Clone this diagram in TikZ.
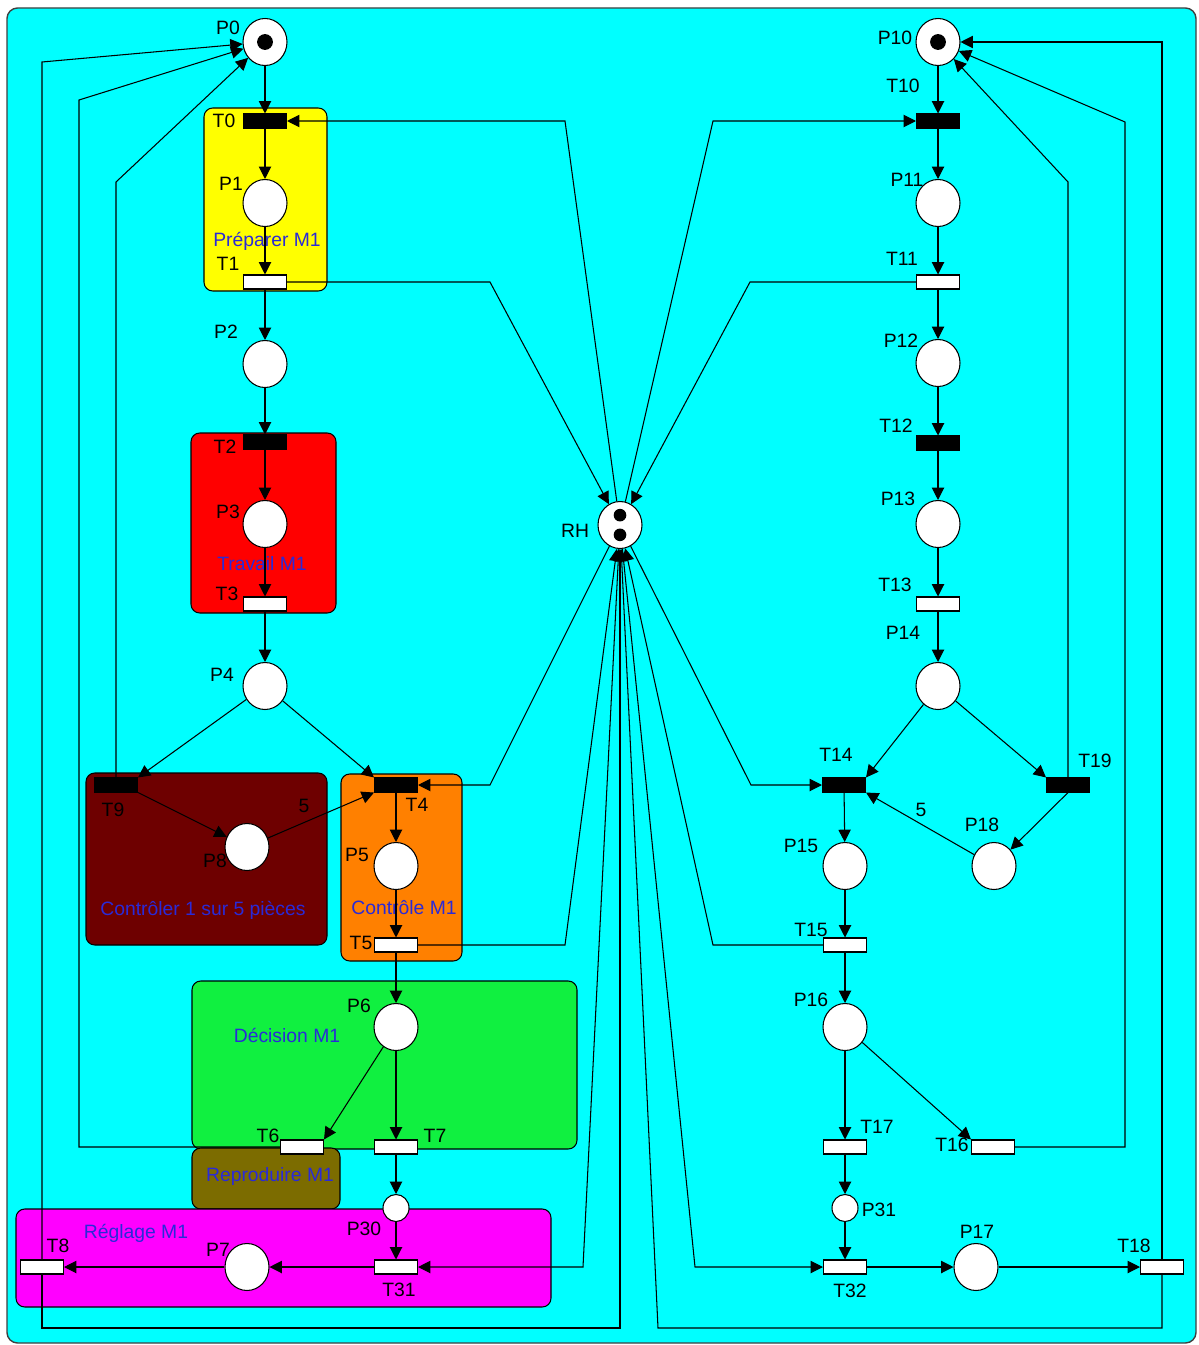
\documentclass[tikz,border=0pt]{standalone}
\usepackage{fontspec}
\setmainfont{Liberation Sans}
\usetikzlibrary{positioning,shapes.geometric,arrows.meta}
\definecolor{Aqua}{HTML}{00FFFF}
\definecolor{Lemon}{HTML}{FFFF00}
\definecolor{Scarlet}{HTML}{FF0000}
\definecolor{Maroon}{HTML}{6E0000}
\definecolor{Tangerine}{HTML}{FF8000}
\definecolor{Lime}{HTML}{10F040}
\definecolor{Olive}{HTML}{7C6C00}
\definecolor{Fuchsia}{HTML}{FF00FF}
\definecolor{Ink}{HTML}{2A2AD8}

\begin{document}
\begin{tikzpicture}[x=0.02cm, y=-0.02cm,
    font=\fontsize{11}{13}\selectfont,
    plc/.style={ellipse, draw, fill=white, line width=0.6pt, minimum width=0.88cm, minimum height=0.94cm, inner sep=0pt},
    lilplc/.style={ellipse, draw, fill=white, line width=0.6pt, minimum width=0.52cm, minimum height=0.54cm, inner sep=0pt},
    trw/.style={rectangle, draw, fill=white, line width=0.6pt, minimum width=0.86cm, minimum height=0.28cm, inner sep=0pt},
    trb/.style={trw, fill=black},
    arrow/.style={-{Triangle[length=7pt,width=7pt]}, line width=0.6pt},
    lbl/.style={inner sep=0pt},
    grp/.style={draw, line width=0.6pt, rounded corners=5pt},
    grptxt/.style={inner sep=0pt, text=Ink}
]
\fill[white] (0,0) rectangle (1198,1345);
\useasboundingbox (0,0) rectangle (1198,1345);
\draw[line width=0.8pt, draw=black!75, fill=Aqua, rounded corners=6pt] (7,8) rectangle (1196,1343);

% sub-net frames
\draw[grp, fill=Lemon] (204,108) rectangle (327,291);
\draw[grp, fill=Scarlet] (191,433) rectangle (336,613);
\draw[grp, fill=Maroon] (86,773) rectangle (327,945);
\draw[grp, fill=Tangerine] (341,774) rectangle (462,961);
\draw[grp, fill=Lime] (192,981) rectangle (577,1149);
\draw[grp, fill=Olive] (192,1148) rectangle (340,1209);
\draw[grp, fill=Fuchsia] (16,1209) rectangle (551,1307);

\node[grptxt] (gPrep) at (267,241) {Préparer M1};
\node[grptxt] (gTrav) at (262,564) {Travail M1};
\node[grptxt] (gCtl5) at (203,910) {Contrôler 1 sur 5 pièces};
\node[grptxt] (gCtl) at (404,908) {Contrôle M1};
\node[grptxt] (gDec) at (287,1035) {Décision M1};
\node[grptxt] (gRep) at (270,1176) {Reproduire M1};
\node[grptxt] (gReg) at (136,1233) {Réglage M1};

% labels
\node[lbl] (lP0) at (228,28) {P0};
\node[lbl] (lT0) at (224,121) {T0};
\node[lbl] (lP1) at (231,184) {P1};
\node[lbl] (lT1) at (228,264) {T1};
\node[lbl] (lP2) at (226,332) {P2};
\node[lbl] (lT2) at (225,447) {T2};
\node[lbl] (lP3) at (228,512) {P3};
\node[lbl] (lT3) at (227,594) {T3};
\node[lbl] (lP4) at (222,675) {P4};
\node[lbl] (lT9) at (113,810) {T9};
\node[lbl] (lP8) at (215,861) {P8};
\node[lbl] (lT4) at (417,805) {T4};
\node[lbl] (lP5) at (357,855) {P5};
\node[lbl] (lT5) at (361,943) {T5};
\node[lbl] (lP6) at (359,1006) {P6};
\node[lbl] (lT6) at (268,1136) {T6};
\node[lbl] (lT7) at (435,1136) {T7};
\node[lbl] (lP30) at (364,1229) {P30};
\node[lbl] (lT8) at (58,1246) {T8};
\node[lbl] (lP7) at (218,1250) {P7};
\node[lbl] (lT31) at (399,1290) {T31};
\node[lbl] (lRH) at (575,531) {RH};
\node[lbl] (w4) at (304,806) {5};

\node[lbl] (lP10) at (895,38) {P10};
\node[lbl] (lT10) at (903,86) {T10};
\node[lbl] (lP11) at (907,180) {P11};
\node[lbl] (lT11) at (902,259) {T11};
\node[lbl] (lP12) at (901,341) {P12};
\node[lbl] (lT12) at (896,426) {T12};
\node[lbl] (lP13) at (898,499) {P13};
\node[lbl] (lT13) at (895,585) {T13};
\node[lbl] (lP14) at (903,633) {P14};
\node[lbl] (lT14) at (836,755) {T14};
\node[lbl] (lT19) at (1095,761) {T19};
\node[lbl] (lP18) at (982,825) {P18};
\node[lbl] (lP15) at (801,846) {P15};
\node[lbl] (lT15) at (811,930) {T15};
\node[lbl] (lP16) at (811,1000) {P16};
\node[lbl] (lT17) at (877,1127) {T17};
\node[lbl] (lT16) at (952,1145) {T16};
\node[lbl] (lP31) at (879,1210) {P31};
\node[lbl] (lP17) at (977,1232) {P17};
\node[lbl] (lT18) at (1134,1246) {T18};
\node[lbl] (lT32) at (850,1291) {T32};
\node[lbl] (w14) at (921,810) {5};

% machine M1
\node[plc] (p0) at (265,42) {};
\node[trb] (t0) at (265,121) {};
\node[plc] (p1) at (265,203) {};
\node[trw] (t1) at (265,282) {};
\node[plc] (p2) at (265,364) {};
\node[trb] (t2) at (265,442) {};
\node[plc] (p3) at (265,524) {};
\node[trw] (t3) at (265,604) {};
\node[plc] (p4) at (265,686) {};
\node[trb] (t9) at (116,785) {};
\node[trb] (t4) at (396,785) {};
\node[plc] (p8) at (247,847) {};
\node[plc] (p5) at (396,866) {};
\node[trw] (t5) at (396,945) {};
\node[plc] (p6) at (396,1027) {};
\node[trw] (t6) at (302,1147) {};
\node[trw] (t7) at (396,1147) {};
\node[lilplc] (p30) at (396,1208) {};
\node[trw] (t31) at (396,1267) {};
\node[plc] (p7) at (247,1267) {};
\node[trw] (t8) at (42,1267) {};

% shared resource
\node[plc] (rh) at (620,525) {};

% machine M2
\node[plc] (p10) at (938,42) {};
\node[trb] (t10) at (938,121) {};
\node[plc] (p11) at (938,203) {};
\node[trw] (t11) at (938,282) {};
\node[plc] (p12) at (938,363) {};
\node[trb] (t12) at (938,443) {};
\node[plc] (p13) at (938,524) {};
\node[trw] (t13) at (938,604) {};
\node[plc] (p14) at (938,686) {};
\node[trb] (t14) at (844,785) {};
\node[trb] (t19) at (1068,785) {};
\node[plc] (p15) at (845,866) {};
\node[plc] (p18) at (994,866) {};
\node[trw] (t15) at (845,945) {};
\node[plc] (p16) at (845,1027) {};
\node[trw] (t17) at (845,1147) {};
\node[trw] (t16) at (993,1147) {};
\node[lilplc] (p31) at (845,1208) {};
\node[trw] (t32) at (845,1267) {};
\node[plc] (p17) at (976,1267) {};
\node[trw] (t18) at (1162,1267) {};

% tokens
\fill (p0) circle[radius=4.5pt];
\fill (p10) circle[radius=4.5pt];
\fill ([yshift=5.6pt]rh) circle[radius=3.6pt];
\fill ([yshift=-5.6pt]rh) circle[radius=3.6pt];

% M1 arcs
\draw[arrow] (p0) -- (t0);
\draw[arrow] (t0) -- (p1);
\draw[arrow] (p1) -- (t1);
\draw[arrow] (t1) -- (p2);
\draw[arrow] (p2) -- (t2);
\draw[arrow] (t2) -- (p3);
\draw[arrow] (p3) -- (t3);
\draw[arrow] (t3) -- (p4);
\draw[arrow] (p4) -- (t9.north east);
\draw[arrow] (p4) -- (t4.north west);
\draw[arrow] (t9.south east) -- (p8);
\draw[arrow] (p8) -- (t4.south west);
\draw[arrow] (t4) -- (p5);
\draw[arrow] (p5) -- (t5);
\draw[arrow] (t5) -- (p6);
\draw[arrow] (p6) -- (t6.north east);
\draw[arrow] (p6) -- (t7);
\draw[arrow] (t7) -- (p30);
\draw[arrow] (p30) -- (t31);
\draw[arrow] (t31) -- (p7);
\draw[arrow] (p7) -- (t8);
\draw[arrow] (t8.north) -- (42,62) -- (p0);
\draw[arrow] (t6.west) -- (79,1147) -- (79,100) -- (p0);
\draw[arrow] (t9.north) -- (116,182) -- (p0);

% M1 <-> RH
\draw[arrow] (rh) -- (565,121) -- (t0.east);
\draw[arrow] (t1.east) -- (490,282) -- (rh);
\draw[arrow] (rh) -- (490,785) -- (t4.east);
\draw[arrow] (t5.east) -- (565,945) -- (rh);
\draw[arrow] (rh) -- (583,1267) -- (t31.east);
\draw[arrow] (t8.south) -- (42,1328) -- (620,1328) -- (rh);

% M2 arcs
\draw[arrow] (p10) -- (t10);
\draw[arrow] (t10) -- (p11);
\draw[arrow] (p11) -- (t11);
\draw[arrow] (t11) -- (p12);
\draw[arrow] (p12) -- (t12);
\draw[arrow] (t12) -- (p13);
\draw[arrow] (p13) -- (t13);
\draw[arrow] (t13) -- (p14);
\draw[arrow] (p14) -- (t14.north east);
\draw[arrow] (p14) -- (t19.north west);
\draw[arrow] (t19.south) -- (p18);
\draw[arrow] (p18) -- (t14.south east);
\draw[arrow] (t14) -- (p15);
\draw[arrow] (p15) -- (t15);
\draw[arrow] (t15) -- (p16);
\draw[arrow] (p16) -- (t17);
\draw[arrow] (p16) -- (t16.north west);
\draw[arrow] (t17) -- (p31);
\draw[arrow] (p31) -- (t32);
\draw[arrow] (t32) -- (p17);
\draw[arrow] (p17) -- (t18);
\draw[arrow] (t18.north) -- (1162,42) -- (p10);
\draw[arrow] (t16.east) -- (1125,1147) -- (1125,122) -- (p10);
\draw[arrow] (t19.north) -- (1068,182) -- (p10);

% M2 <-> RH
\draw[arrow] (rh) -- (713,121) -- (t10.west);
\draw[arrow] (t11.west) -- (750,282) -- (rh);
\draw[arrow] (rh) -- (751,785) -- (t14.west);
\draw[arrow] (t15.west) -- (713,945) -- (rh);
\draw[arrow] (rh) -- (695,1267) -- (t32.west);
\draw[arrow] (t18.south) -- (1162,1328) -- (658,1328) -- (rh);
\end{tikzpicture}
\end{document}
